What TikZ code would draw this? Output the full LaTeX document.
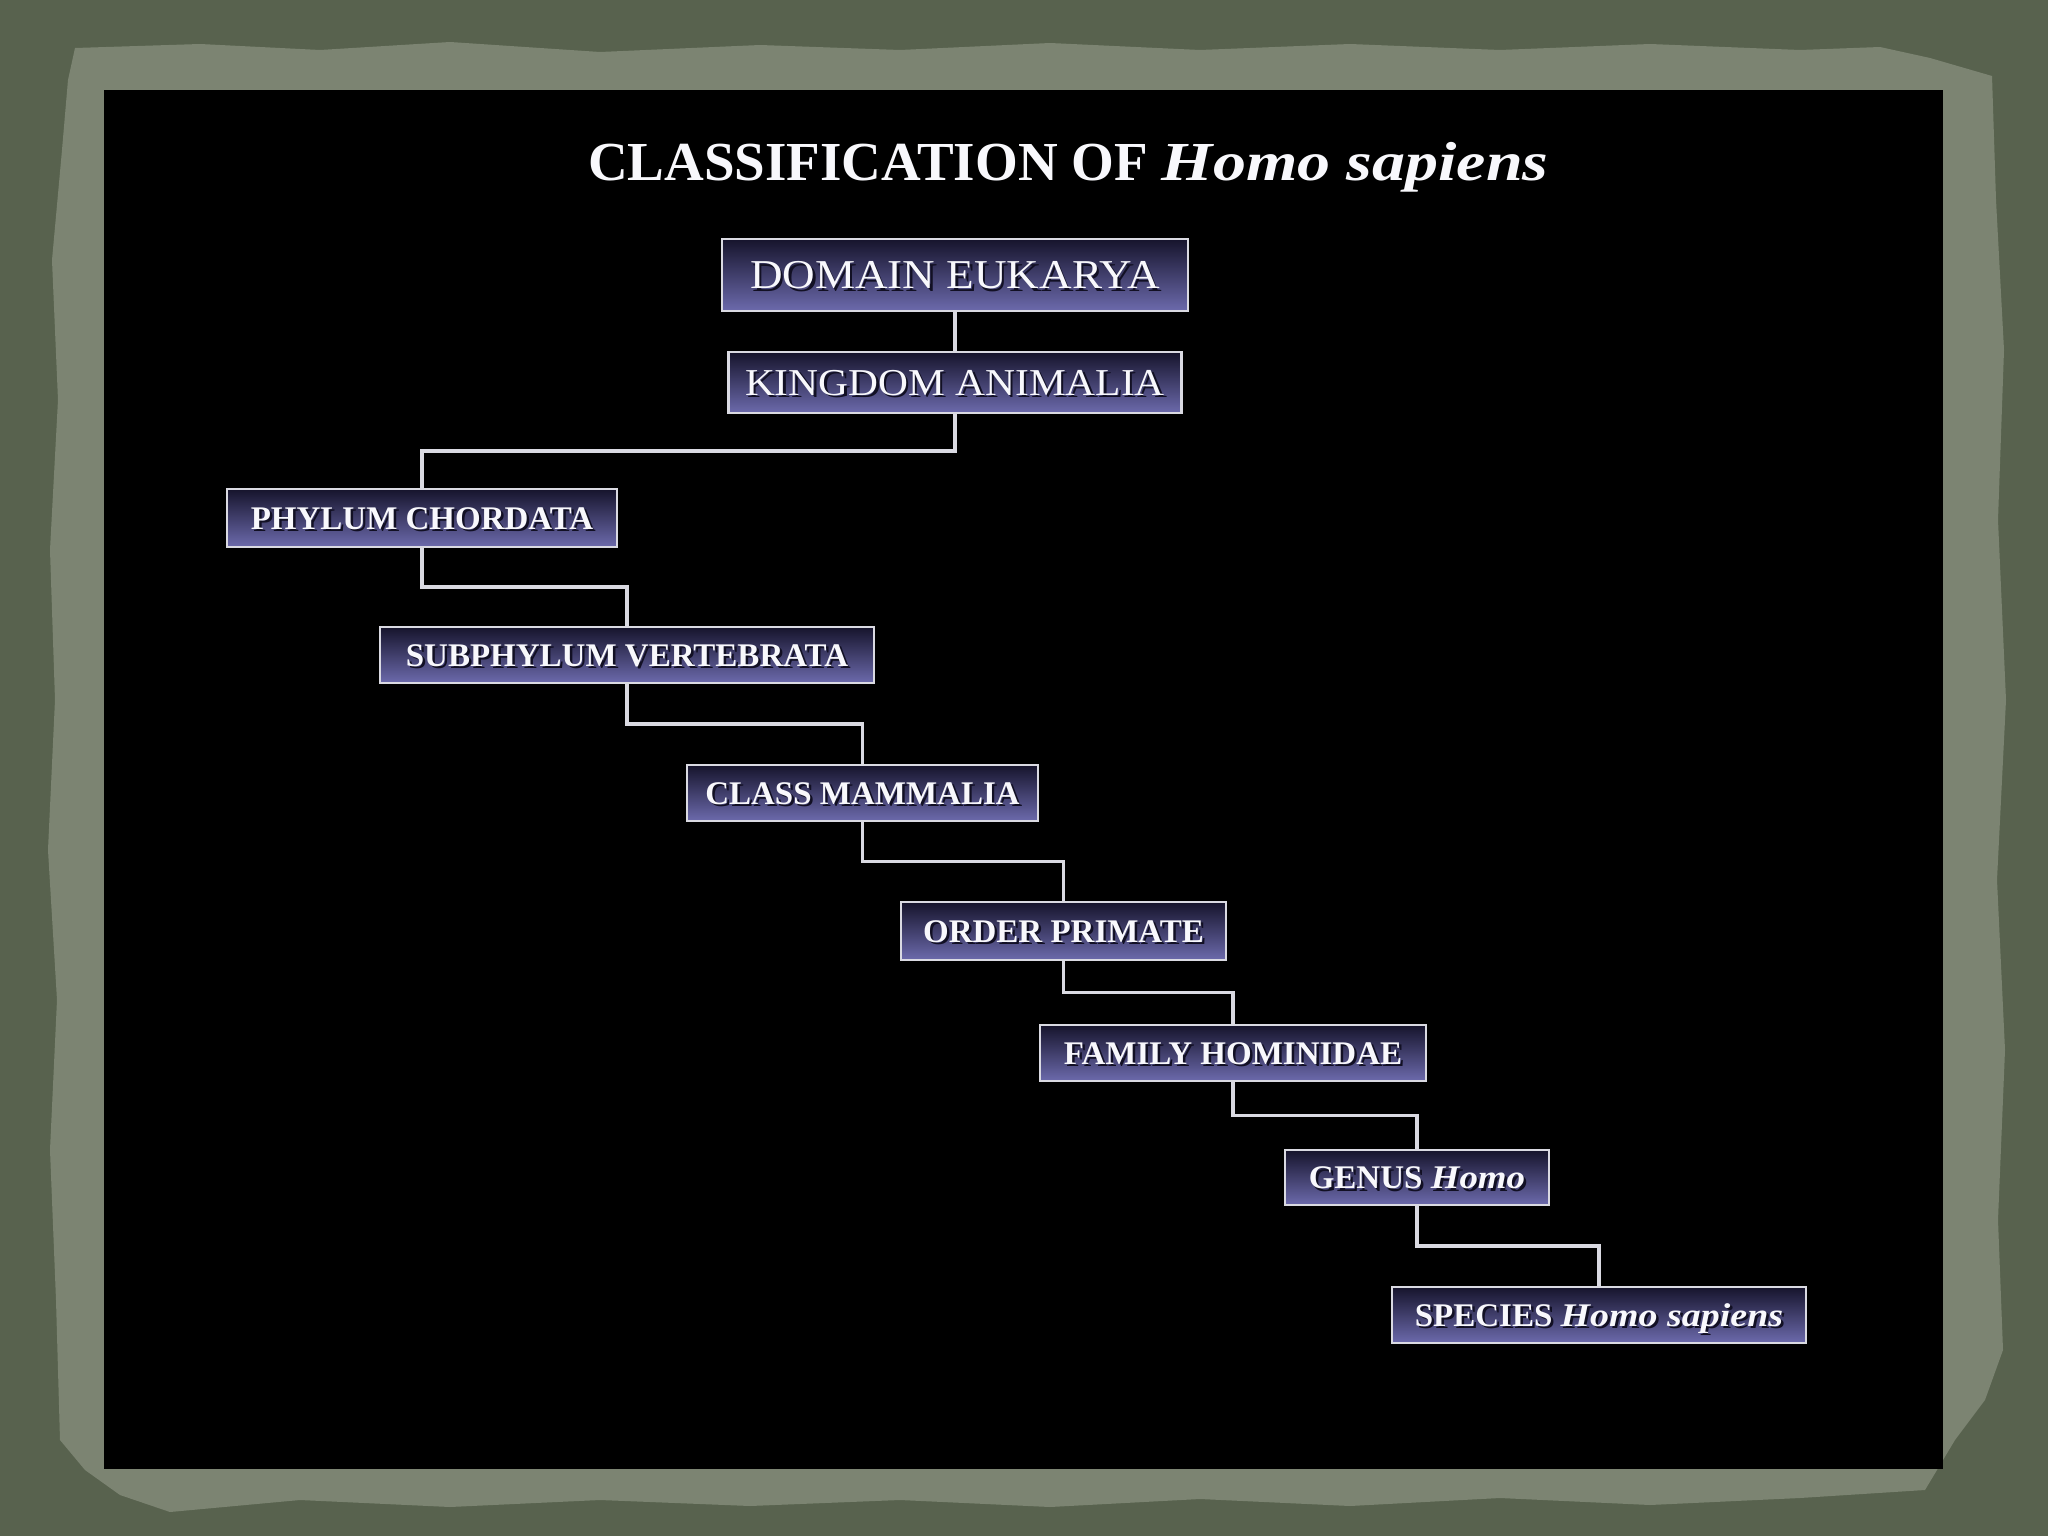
\documentclass[tikz,border=0pt]{standalone}
\usepackage{fontspec}
\usepackage{graphicx}
\setmainfont{Liberation Serif}
\usetikzlibrary{calc}
\definecolor{bgdark}{RGB}{88,98,78}
\definecolor{paper}{RGB}{124,132,114}
\definecolor{boxtop}{RGB}{22,20,44}
\definecolor{boxbot}{RGB}{108,106,172}
\definecolor{edgec}{RGB}{218,218,226}
\definecolor{txtc}{RGB}{248,248,252}
\definecolor{shadc}{RGB}{18,16,36}
\newcommand\embt[1]{\leavevmode\rlap{\kern2.5pt\raisebox{-2.5pt}{\color{shadc}#1}}{\color{txtc}#1}}
\tikzset{
  taxbox/.style={draw=edgec, line width=2.5pt, top color=boxtop, bottom color=boxbot,
    inner sep=0pt, text height=22pt, text depth=0pt,
    font=\fontsize{33}{38}\selectfont\bfseries},
  bigbox/.style={taxbox, font=\fontsize{40}{46}\selectfont},
  link/.style={draw=edgec, line width=3.8pt},
  titlestyle/.style={anchor=base west, inner sep=0pt, text=txtc,
    font=\fontsize{55}{60}\selectfont\bfseries}
}
\begin{document}
\begin{tikzpicture}[x=1pt,y=-1pt]
\useasboundingbox (0,0) rectangle (2048,1536);
% background and paper
\fill[bgdark] (0,0) rectangle (2048,1536);
\fill[paper] (75,48) -- (200,44) -- (320,50) -- (450,42) -- (600,52) -- (760,45) -- (900,50)
  -- (1050,43) -- (1200,50) -- (1350,44) -- (1500,50) -- (1650,44) -- (1800,50) -- (1880,47)
  -- (1930,58) -- (1992,76) -- (1996,200) -- (2004,350) -- (1998,520) -- (2006,700)
  -- (1997,880) -- (2005,1050) -- (1998,1220) -- (2003,1350) -- (1985,1400) -- (1955,1440)
  -- (1925,1490) -- (1800,1498) -- (1650,1505) -- (1500,1498) -- (1350,1506) -- (1200,1499)
  -- (1050,1507) -- (900,1500) -- (750,1506) -- (600,1500) -- (450,1507) -- (300,1500)
  -- (170,1512) -- (120,1495) -- (85,1470) -- (60,1440) -- (56,1300) -- (50,1150)
  -- (57,1000) -- (48,850) -- (55,700) -- (50,550) -- (58,400) -- (52,260) -- (62,150)
  -- (68,80) -- cycle;
\fill[black] (104,90) rectangle (1943,1469);
% title
\node[titlestyle] (title) at (588,180) {CLASSIFICATION OF \scalebox{1.2}[1]{\itshape Homo sapiens}};
% boxes
\node[bigbox, minimum width=466pt, minimum height=72pt, text height=27pt,
  font=\fontsize{41}{46}\selectfont] (dom) at (955,275) {\embt{\scalebox{1.1}[1]{DOMAIN EUKARYA}}};
\node[bigbox, minimum width=453pt, minimum height=61pt, text height=25pt,
  font=\fontsize{38}{44}\selectfont] (kin) at (955,382.5) {\embt{\scalebox{1.09}[1]{KINGDOM ANIMALIA}}};
\node[taxbox, minimum width=390pt, minimum height=58pt] (phy) at (422,518) {\embt{PHYLUM CHORDATA}};
\node[taxbox, minimum width=494pt, minimum height=56pt] (sub) at (627,655) {\embt{SUBPHYLUM VERTEBRATA}};
\node[taxbox, minimum width=351pt, minimum height=56pt] (cla) at (862.5,793) {\embt{CLASS MAMMALIA}};
\node[taxbox, minimum width=325pt, minimum height=58pt] (ord) at (1063.5,931) {\embt{ORDER PRIMATE}};
\node[taxbox, minimum width=386pt, minimum height=56pt] (fam) at (1233,1053) {\embt{FAMILY HOMINIDAE}};
\node[taxbox, minimum width=264pt, minimum height=55pt] (gen) at (1417,1177.5) {\embt{GENUS \scalebox{1.12}[1]{\itshape Homo}}};
\node[taxbox, minimum width=414pt, minimum height=56pt] (spe) at (1599,1315) {\embt{SPECIES \scalebox{1.15}[1]{\itshape Homo sapiens}}};
% connectors
\draw[link] (dom.south) -- (kin.north);
\draw[link] (kin.south) |- ($(kin.south)!.5!(phy.north)$) -| (phy.north);
\draw[link] (phy.south) |- ($(phy.south)!.5!(sub.north)$) -| (sub.north);
\draw[link] (sub.south) |- ($(sub.south)!.5!(cla.north)$) -| (cla.north);
\draw[link] (cla.south) |- ($(cla.south)!.5!(ord.north)$) -| (ord.north);
\draw[link] (ord.south) |- ($(ord.south)!.5!(fam.north)$) -| (fam.north);
\draw[link] (fam.south) |- ($(fam.south)!.5!(gen.north)$) -| (gen.north);
\draw[link] (gen.south) |- ($(gen.south)!.5!(spe.north)$) -| (spe.north);
\end{tikzpicture}
\end{document}
